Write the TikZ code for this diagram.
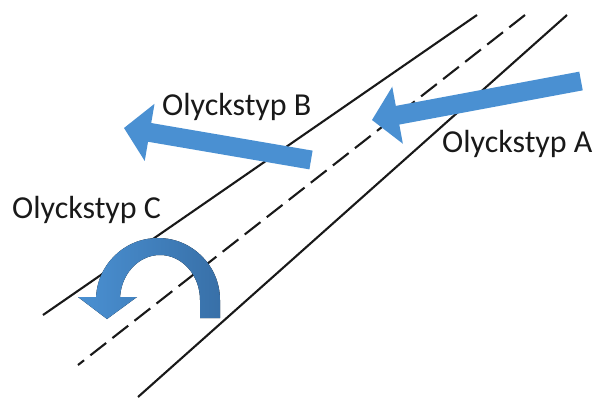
\documentclass[tikz,border=0pt]{standalone}
\usepackage{fontspec}
\setmainfont{Carlito}
\usetikzlibrary{calc}
\definecolor{arrowblue}{RGB}{74,144,210}
\definecolor{arrowdark}{RGB}{56,112,168}
\definecolor{roadline}{RGB}{25,25,25}
\newcommand{\bkarrow}[3]{% tail, tip, name
  \coordinate (#3base) at ($(#2)!26pt!(#1)$);
  \fill[blockarrow] ($(#1)!9.5pt!90:(#2)$) -- ($(#3base)!9.5pt!90:(#2)$)
    -- ($(#3base)!29pt!90:(#2)$) -- (#2) -- ($(#3base)!29pt!-90:(#2)$)
    -- ($(#3base)!9.5pt!-90:(#2)$) -- ($(#1)!9.5pt!-90:(#2)$) -- cycle;}
\begin{document}
\begin{tikzpicture}[x=1pt,y=-1pt,
  road/.style={draw=roadline, line width=2.1pt},
  centerline/.style={road, dash pattern=on 20pt off 8pt},
  blockarrow/.style={fill=arrowblue},
  lbl/.style={font=\fontsize{32}{38}\selectfont, text=black!90, inner sep=0pt, anchor=base west}]
\useasboundingbox (0,0) rectangle (601,399);
% road
\coordinate (L1) at (43,315); \coordinate (L2) at (477,15);
\coordinate (M1) at (78,365); \coordinate (M2) at (525,15);
\coordinate (R1) at (138,397); \coordinate (R2) at (567,15);
\draw[road] (L1) -- (L2);
\draw[centerline] (M2) -- (M1);
\draw[road] (R1) -- (R2);
% straight arrows
\coordinate (Atail) at (581,81); \coordinate (Atip) at (372,120);
\coordinate (Btail) at (311,160); \coordinate (Btip) at (124,128);
\bkarrow{Atail}{Atip}{A}
\bkarrow{Btail}{Btip}{B}
% U-turn arrow
\fill[left color=arrowblue, middle color=arrowblue, right color=arrowdark]
  (220,318) -- (220,300) arc[start angle=0, end angle=-180, x radius=62, y radius=62]
  -- (96,297) -- (78,297) -- (107,319) -- (137,297) -- (120,297) -- (120,300)
  arc[start angle=-180, end angle=0, x radius=40, y radius=45]
  -- (200,318) -- cycle;
% labels
\node[lbl] (la) at (442,152) {Olyckstyp A};
\node[lbl] (lb) at (162,115) {Olyckstyp B};
\node[lbl] (lc) at (12,218) {Olyckstyp C};
\end{tikzpicture}
\end{document}
